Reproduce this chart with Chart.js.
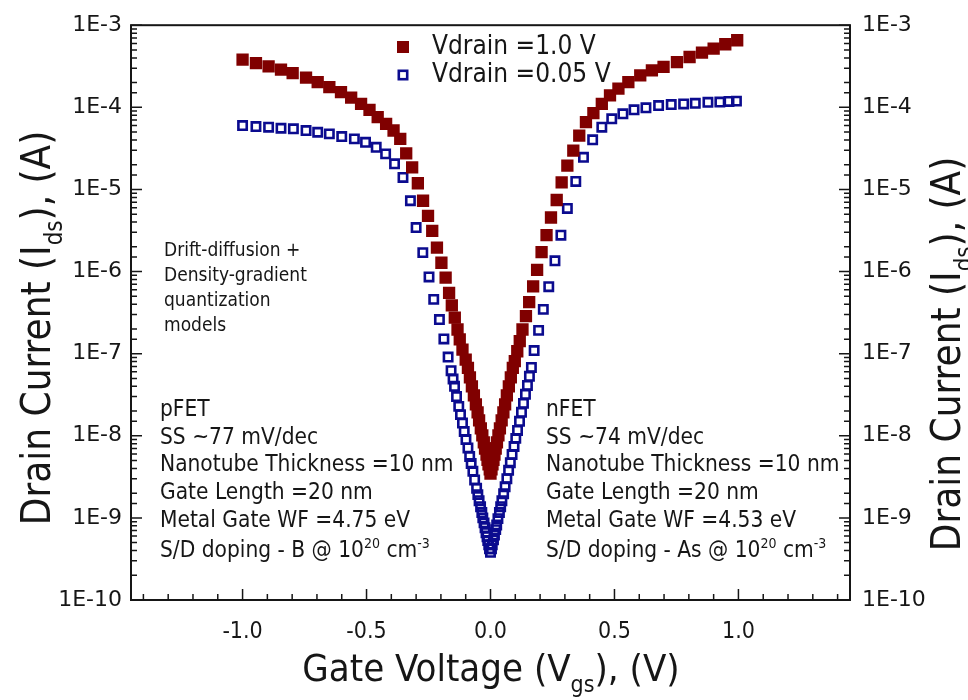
<!DOCTYPE html>
<html lang="en">
<head>
    <meta charset="UTF-8">
    <title>Drain Current vs Gate Voltage</title>
    <script src="https://cdn.jsdelivr.net/npm/chart.js"></script>
    <style>
        body { margin: 0; background: #fff; }
    </style>
</head>
<body>
    <canvas id="ivChart" width="968" height="700"></canvas>
    <script>
        // Vdrain = 1.0 V (filled squares)
        const vgsHigh = [
            -1.000, -0.946, -0.895, -0.845, -0.798, -0.744, -0.697, -0.650, -0.603, -0.562,
            -0.522, -0.488, -0.455, -0.421, -0.391, -0.364, -0.340, -0.316, -0.293, -0.272,
            -0.252, -0.235, -0.216, -0.198, -0.181, -0.167, -0.156, -0.144, -0.133, -0.124,
            -0.113, -0.100, -0.091, -0.083, -0.075, -0.067, -0.059, -0.052, -0.046, -0.039,
            -0.033, -0.027, -0.022, -0.016, -0.012, -0.008, -0.003, 0.000,
            0.004, 0.008, 0.012, 0.016, 0.021, 0.026, 0.032, 0.038, 0.045, 0.052,
            0.059, 0.066, 0.074, 0.082, 0.090, 0.098, 0.108, 0.118, 0.129, 0.143,
            0.156, 0.172, 0.188, 0.206, 0.226, 0.244, 0.267, 0.287, 0.310, 0.334,
            0.358, 0.385, 0.415, 0.449, 0.482, 0.516, 0.556, 0.604, 0.651, 0.698,
            0.752, 0.803, 0.853, 0.900, 0.947, 0.995
        ];
        const idsHigh = [
            3.81e-4, 3.46e-4, 3.15e-4, 2.87e-4, 2.61e-4, 2.30e-4, 2.03e-4, 1.76e-4, 1.53e-4, 1.31e-4,
            1.10e-4, 9.33e-5, 7.58e-5, 6.30e-5, 5.22e-5, 4.13e-5, 2.75e-5, 1.86e-5, 1.19e-5, 7.28e-6,
            4.77e-6, 3.13e-6, 1.96e-6, 1.28e-6, 8.41e-7, 5.50e-7, 3.87e-7, 2.74e-7, 1.97e-7, 1.49e-7,
            1.12e-7, 8.47e-8, 6.70e-8, 5.15e-8, 4.00e-8, 3.10e-8, 2.41e-8, 1.93e-8, 1.54e-8, 1.23e-8,
            1.01e-8, 8.30e-9, 7.00e-9, 5.90e-9, 5.10e-9, 4.50e-9, 3.90e-9, 3.46e-9,
            3.90e-9, 4.50e-9, 5.10e-9, 5.90e-9, 7.00e-9, 8.30e-9, 1.01e-8, 1.23e-8, 1.54e-8, 1.93e-8,
            2.41e-8, 3.10e-8, 4.00e-8, 5.15e-8, 6.70e-8, 8.09e-8, 1.07e-7, 1.42e-7, 1.97e-7, 2.86e-7,
            4.25e-7, 6.61e-7, 1.05e-6, 1.72e-6, 2.77e-6, 4.55e-6, 7.43e-6, 1.22e-5, 1.95e-5, 2.97e-5,
            4.53e-5, 6.59e-5, 8.49e-5, 1.10e-4, 1.40e-4, 1.69e-4, 2.03e-4, 2.45e-4, 2.82e-4, 3.10e-4,
            3.56e-4, 4.10e-4, 4.64e-4, 5.19e-4, 5.86e-4, 6.56e-4
        ];

        // Vdrain = 0.05 V (open squares)
        const vgsLow = [
            -1.000, -0.946, -0.895, -0.845, -0.795, -0.744, -0.697, -0.650, -0.600, -0.549,
            -0.504, -0.461, -0.423, -0.387, -0.353, -0.323, -0.300, -0.273, -0.248, -0.229,
            -0.206, -0.188, -0.171, -0.159, -0.151, -0.145, -0.137, -0.128, -0.121, -0.113,
            -0.106, -0.099, -0.091, -0.084, -0.078, -0.071, -0.064, -0.056, -0.051, -0.046,
            -0.040, -0.035, -0.031, -0.026, -0.022, -0.018, -0.014, -0.011, -0.007, -0.004, 0.000,
            0.004, 0.007, 0.012, 0.016, 0.021, 0.025, 0.030, 0.036, 0.041, 0.046,
            0.053, 0.059, 0.066, 0.073, 0.080, 0.087, 0.095, 0.102, 0.109, 0.117,
            0.125, 0.133, 0.141, 0.149, 0.157, 0.165, 0.176, 0.194, 0.213, 0.235,
            0.260, 0.284, 0.310, 0.344, 0.375, 0.412, 0.449, 0.489, 0.534, 0.579,
            0.627, 0.678, 0.729, 0.779, 0.826, 0.877, 0.925, 0.962, 0.992
        ];
        const idsLow = [
            6.00e-5, 5.83e-5, 5.73e-5, 5.56e-5, 5.47e-5, 5.21e-5, 4.97e-5, 4.75e-5, 4.41e-5, 4.13e-5,
            3.75e-5, 3.26e-5, 2.71e-5, 2.05e-5, 1.40e-5, 7.28e-6, 3.43e-6, 1.70e-6, 8.59e-7, 4.58e-7,
            2.60e-7, 1.51e-7, 9.10e-8, 6.20e-8, 4.90e-8, 4.00e-8, 3.00e-8, 2.28e-8, 1.81e-8, 1.43e-8,
            1.13e-8, 9.00e-9, 7.10e-9, 5.60e-9, 4.60e-9, 3.70e-9, 2.90e-9, 2.30e-9, 1.92e-9, 1.62e-9,
            1.37e-9, 1.16e-9, 1.00e-9, 8.70e-10, 7.60e-10, 6.60e-10, 5.90e-10, 5.30e-10, 4.70e-10, 4.20e-10, 3.80e-10,
            4.20e-10, 4.70e-10, 5.40e-10, 6.20e-10, 7.20e-10, 8.20e-10, 9.80e-10, 1.16e-9, 1.37e-9, 1.62e-9,
            1.97e-9, 2.40e-9, 3.00e-9, 3.80e-9, 4.70e-9, 5.90e-9, 7.40e-9, 9.30e-9, 1.16e-8, 1.50e-8,
            1.93e-8, 2.48e-8, 3.20e-8, 4.10e-8, 5.30e-8, 6.80e-8, 1.09e-7, 1.92e-7, 3.46e-7, 6.53e-7,
            1.35e-6, 2.77e-6, 5.86e-6, 1.25e-5, 2.46e-5, 4.02e-5, 5.73e-5, 7.24e-5, 8.34e-5, 9.33e-5,
            9.87e-5, 1.05e-4, 1.08e-4, 1.10e-4, 1.12e-4, 1.15e-4, 1.16e-4, 1.18e-4, 1.19e-4
        ];

        const seriesLabels = ['Vdrain =1.0 V', 'Vdrain =0.05 V'];
        const xTickValues = [-1.4, -1.3, -1.2, -1.1, -1.0, -0.9, -0.8, -0.7, -0.6, -0.5, -0.4, -0.3, -0.2, -0.1,
            0.0, 0.1, 0.2, 0.3, 0.4, 0.5, 0.6, 0.7, 0.8, 0.9, 1.0, 1.1, 1.2, 1.3, 1.4];
        const xLabelValues = [-1.0, -0.5, 0.0, 0.5, 1.0];
        const xRange = [-1.45, 1.45];
        const yRange = [1e-10, 1e-3];

        const RED = '#800000';
        const BLUE = '#0b0b8f';
        const INK = '#161616';
        const COND = '"DejaVu Sans Condensed", "DejaVu Sans", sans-serif';

        const isDecade = v => Math.abs(Math.log10(v) - Math.round(Math.log10(v))) < 1e-6;
        const decadeLabel = v => isDecade(v) ? '1E' + Math.round(Math.log10(v)) : '';

        function partsWidth(ctx, parts, size) {
            const small = Math.round(size * 0.6);
            let total = 0;
            parts.forEach(([t, k]) => {
                ctx.font = (k ? small : size) + 'px ' + COND;
                total += ctx.measureText(t).width;
            });
            return total;
        }

        // parts: [text, kind] with kind 0 normal, 1 subscript, 2 superscript
        function writeParts(ctx, parts, x, y, size, align) {
            const small = Math.round(size * 0.6);
            let cx = align === 'center' ? x - partsWidth(ctx, parts, size) / 2 : x;
            ctx.textAlign = 'left';
            ctx.textBaseline = 'alphabetic';
            parts.forEach(([t, k]) => {
                ctx.font = (k ? small : size) + 'px ' + COND;
                const dy = k === 1 ? size * 0.3 : k === 2 ? -size * 0.42 : 0;
                ctx.fillText(t, cx, y + dy);
                cx += ctx.measureText(t).width;
            });
        }

        const decorations = {
            id: 'decorations',
            afterDraw(chart) {
                const {ctx, chartArea: a, scales: {x, y}} = chart;
                ctx.save();
                // frame
                ctx.strokeStyle = INK;
                ctx.lineWidth = 2;
                ctx.strokeRect(a.left, a.top, a.right - a.left, a.bottom - a.top);
                // inward tick marks
                ctx.lineWidth = 1.5;
                ctx.beginPath();
                x.ticks.forEach(t => {
                    const px = x.getPixelForValue(t.value);
                    const len = Math.abs(t.value * 2 - Math.round(t.value * 2)) < 1e-6 ? 11 : 6;
                    ctx.moveTo(px, a.bottom);
                    ctx.lineTo(px, a.bottom - len);
                });
                y.ticks.forEach(t => {
                    const py = y.getPixelForValue(t.value);
                    const len = isDecade(t.value) ? 11 : 6;
                    ctx.moveTo(a.left, py);
                    ctx.lineTo(a.left + len, py);
                    ctx.moveTo(a.right, py);
                    ctx.lineTo(a.right - len, py);
                });
                ctx.stroke();

                ctx.fillStyle = INK;
                // axis titles
                writeParts(ctx, [['Gate Voltage (V', 0], ['gs', 1], ['), (V)', 0]], 491, 681, 38, 'center');
                const yTitle = [['Drain Current (I', 0], ['ds', 1], ['), (A)', 0]];
                ctx.save();
                ctx.translate(50, 328);
                ctx.rotate(-Math.PI / 2);
                writeParts(ctx, yTitle, 0, 0, 40, 'center');
                ctx.restore();
                ctx.save();
                ctx.translate(960, 354);
                ctx.rotate(-Math.PI / 2);
                writeParts(ctx, yTitle, 0, 0, 40, 'center');
                ctx.restore();

                // legend
                const lx = 403, ly = [47, 75];
                ctx.fillStyle = RED;
                ctx.fillRect(lx - 6, ly[0] - 6, 12, 12);
                ctx.strokeStyle = BLUE;
                ctx.lineWidth = 2.6;
                ctx.strokeRect(lx - 4.2, ly[1] - 4.2, 8.4, 8.4);
                ctx.fillStyle = INK;
                ctx.font = '26px ' + COND;
                ctx.textBaseline = 'middle';
                ctx.textAlign = 'left';
                seriesLabels.forEach((s, i) => ctx.fillText(s, 432, ly[i]));

                // annotations
                ctx.font = '19px ' + COND;
                ['Drift-diffusion +', 'Density-gradient', 'quantization', 'models']
                    .forEach((s, i) => ctx.fillText(s, 164, 251 + i * 25));

                const blocks = [
                    {x: 160, lines: ['pFET', 'SS ~77 mV/dec', 'Nanotube Thickness =10 nm', 'Gate Length =20 nm', 'Metal Gate WF =4.75 eV'], dop: 'S/D doping - B @ 10'},
                    {x: 546, lines: ['nFET', 'SS ~74 mV/dec', 'Nanotube Thickness =10 nm', 'Gate Length =20 nm', 'Metal Gate WF =4.53 eV'], dop: 'S/D doping - As @ 10'}
                ];
                blocks.forEach(b => {
                    ctx.font = '22.5px ' + COND;
                    ctx.textBaseline = 'middle';
                    b.lines.forEach((s, i) => ctx.fillText(s, b.x, 410 + i * 27.8));
                    writeParts(ctx, [[b.dop, 0], ['20', 2], [' cm', 0], ['-3', 2]], b.x, 557, 22.5, 'left');
                });
                ctx.restore();
            }
        };

        const ctx = document.getElementById('ivChart').getContext('2d');
        const ivChart = new Chart(ctx, {
            type: 'scatter',
            data: {
                datasets: [{
                    label: seriesLabels[0],
                    data: vgsHigh.map((v, i) => ({x: v, y: idsHigh[i]})),
                    pointStyle: 'rect',
                    pointRadius: 8.7,
                    pointBackgroundColor: RED,
                    pointBorderWidth: 0,
                    showLine: false
                }, {
                    label: seriesLabels[1],
                    data: vgsLow.map((v, i) => ({x: v, y: idsLow[i]})),
                    pointStyle: 'rect',
                    pointRadius: 5.9,
                    pointBackgroundColor: 'rgba(0,0,0,0)',
                    pointBorderColor: BLUE,
                    pointBorderWidth: 2.6,
                    showLine: false
                }]
            },
            options: {
                responsive: false,
                animation: false,
                layout: { padding: { top: 25, left: 0, right: 0, bottom: 0 } },
                plugins: { legend: { display: false }, tooltip: { enabled: false } },
                scales: {
                    x: {
                        type: 'linear',
                        min: xRange[0],
                        max: xRange[1],
                        afterBuildTicks: s => { s.ticks = xTickValues.map(v => ({value: v})); },
                        afterFit: s => { s.height = 100; },
                        grid: { display: false, drawTicks: false },
                        border: { display: false },
                        ticks: {
                            autoSkip: false,
                            maxRotation: 0,
                            padding: 18,
                            color: INK,
                            font: { family: COND, size: 23 },
                            callback: v => xLabelValues.some(l => Math.abs(l - v) < 1e-6) ? v.toFixed(1) : ''
                        }
                    },
                    y: {
                        type: 'logarithmic',
                        position: 'left',
                        min: yRange[0],
                        max: yRange[1],
                        afterFit: s => { s.width = 131; },
                        grid: { display: false, drawTicks: false },
                        border: { display: false },
                        ticks: {
                            autoSkip: false,
                            padding: 9,
                            color: INK,
                            font: { family: 'DejaVu Sans', size: 22 },
                            callback: decadeLabel
                        }
                    },
                    y2: {
                        type: 'logarithmic',
                        position: 'right',
                        min: yRange[0],
                        max: yRange[1],
                        afterFit: s => { s.width = 118; },
                        grid: { display: false, drawTicks: false },
                        border: { display: false },
                        ticks: {
                            autoSkip: false,
                            padding: 12,
                            color: INK,
                            font: { family: 'DejaVu Sans', size: 22 },
                            callback: decadeLabel
                        }
                    }
                }
            },
            plugins: [decorations]
        });
    </script>
</body>
</html>
